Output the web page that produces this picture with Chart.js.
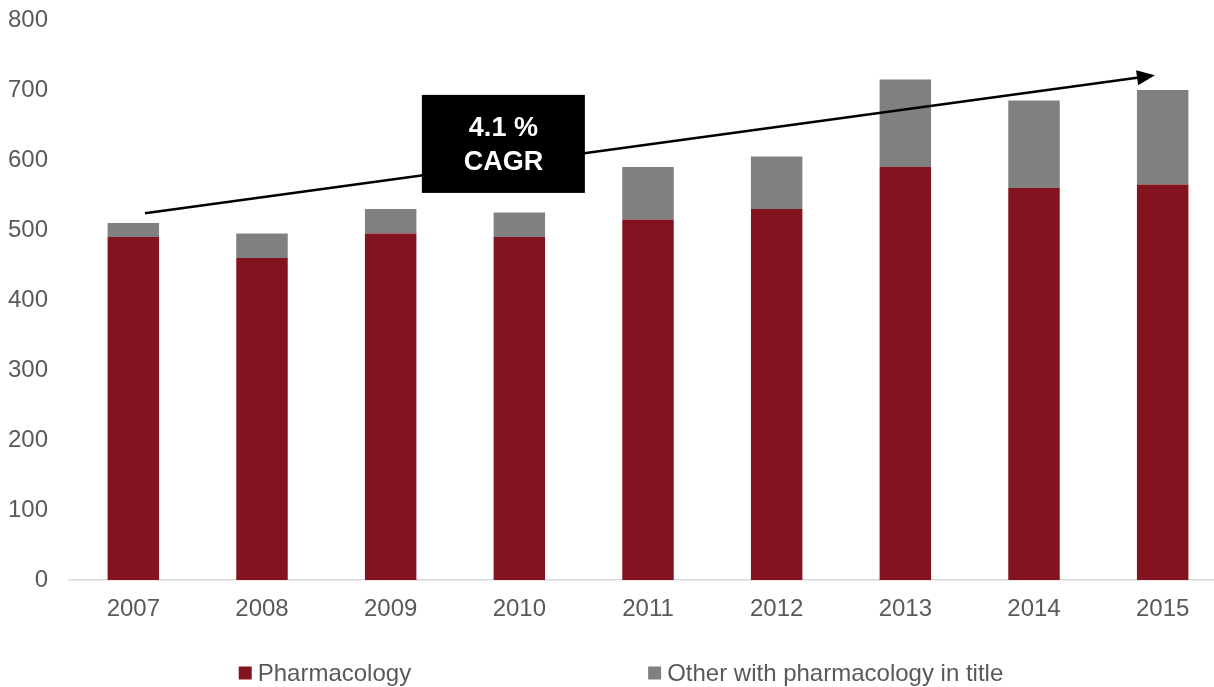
<!DOCTYPE html>
<html>
<head>
<meta charset="utf-8">
<script src="https://cdn.jsdelivr.net/npm/chart.js@4/dist/chart.umd.min.js"></script>
<style>
  html, body { margin: 0; padding: 0; background: #fff; overflow: hidden; }
  #wrap { position: relative; width: 1242px; height: 687px; }
</style>
</head>
<body>
<div id="wrap"><canvas id="c"></canvas></div>
<script>
// Publications per year, stacked by type
const years = ['2007', '2008', '2009', '2010', '2011', '2012', '2013', '2014', '2015'];
const pharmacology = [490, 460, 495, 490, 515, 530, 590, 560, 565];
const otherWithPharmacology = [20, 35, 35, 35, 75, 75, 125, 125, 135];
const seriesNames = ['Pharmacology', 'Other with pharmacology in title'];
const seriesColors = ['#83141f', '#808080'];
const yTicks = [0, 100, 200, 300, 400, 500, 600, 700, 800];

// Growth annotation
const cagrLines = ['4.1 %', 'CAGR'];
const arrowFrom = { x: 0.09, y: 524 };
const arrowTo = { x: 7.94, y: 721 };
const boxCenter = { x: 2.876, y: 623 };

const FONT = '"Liberation Sans", Arial, sans-serif';
const TEXT = '#595959';

const annotationPlugin = {
  id: 'cagrAnnotation',
  afterDatasetsDraw(chart) {
    const { ctx, scales: { x, y } } = chart;
    const x0 = x.getPixelForValue(arrowFrom.x), y0 = y.getPixelForValue(arrowFrom.y);
    const x1 = x.getPixelForValue(arrowTo.x), y1 = y.getPixelForValue(arrowTo.y);
    const ang = Math.atan2(y1 - y0, x1 - x0);
    const headLen = 18, headHalf = 7.5;
    ctx.save();
    ctx.strokeStyle = '#000';
    ctx.fillStyle = '#000';
    ctx.lineWidth = 2.5;
    ctx.beginPath();
    ctx.moveTo(x0, y0);
    ctx.lineTo(x1 - Math.cos(ang) * headLen * 0.8, y1 - Math.sin(ang) * headLen * 0.8);
    ctx.stroke();
    ctx.translate(x1, y1);
    ctx.rotate(ang);
    ctx.beginPath();
    ctx.moveTo(0, 0);
    ctx.lineTo(-headLen, -headHalf);
    ctx.lineTo(-headLen, headHalf);
    ctx.closePath();
    ctx.fill();
    ctx.restore();

    // label box
    const cx = x.getPixelForValue(boxCenter.x), cy = y.getPixelForValue(boxCenter.y);
    const bw = 163, bh = 98;
    ctx.save();
    ctx.fillStyle = '#000';
    ctx.fillRect(cx - bw / 2, cy - bh / 2, bw, bh);
    ctx.fillStyle = '#fff';
    ctx.font = 'bold 27px ' + FONT;
    ctx.textAlign = 'center';
    ctx.textBaseline = 'middle';
    ctx.fillText(cagrLines[0], cx, cy - 15);
    ctx.fillText(cagrLines[1], cx, cy + 19);
    ctx.restore();
  }
};

const legendPlugin = {
  id: 'bottomLegend',
  afterDraw(chart) {
    const { ctx } = chart;
    ctx.save();
    ctx.font = '24px ' + FONT;
    ctx.textBaseline = 'middle';
    const box = 13, gapText = 6, gapItems = 237, cy = 673;
    const widths = seriesNames.map(n => box + gapText + ctx.measureText(n).width);
    const total = widths.reduce((a, b) => a + b, 0) + gapItems * (widths.length - 1);
    let xPos = chart.width / 2 - total / 2;
    seriesNames.forEach((n, i) => {
      ctx.fillStyle = seriesColors[i];
      ctx.fillRect(xPos, cy - box / 2, box, box);
      ctx.fillStyle = TEXT;
      ctx.textAlign = 'left';
      ctx.fillText(n, xPos + box + gapText, cy + 1);
      xPos += widths[i] + gapItems;
    });
    ctx.restore();
  }
};

new Chart(document.getElementById('c'), {
  type: 'bar',
  data: {
    labels: years,
    datasets: [
      { label: seriesNames[0], data: pharmacology, backgroundColor: seriesColors[0],
        borderWidth: 0, categoryPercentage: 1, barPercentage: 0.4 },
      { label: seriesNames[1], data: otherWithPharmacology, backgroundColor: seriesColors[1],
        borderWidth: 0, categoryPercentage: 1, barPercentage: 0.4 }
    ]
  },
  options: {
    responsive: true,
    maintainAspectRatio: false,
    animation: false,
    layout: { padding: { top: 20, right: 15, bottom: 57, left: 0 } },
    plugins: { legend: { display: false }, tooltip: { enabled: false } },
    scales: {
      x: {
        stacked: true,
        grid: { display: false, drawTicks: false },
        border: { display: true, color: '#d9d9d9', width: 1.5 },
        ticks: { color: TEXT, font: { family: FONT, size: 24 }, padding: 15, maxRotation: 0 },
        afterFit(s) { s.height = 50; }
      },
      y: {
        stacked: true,
        min: 0, max: 800,
        grid: { display: false, drawTicks: false },
        border: { display: false },
        afterBuildTicks(s) { s.ticks = yTicks.map(v => ({ value: v })); },
        ticks: { color: TEXT, font: { family: FONT, size: 24 }, padding: 21 },
        afterFit(s) { s.width = 69; s.paddingTop = 0; s.paddingBottom = 0; }
      }
    }
  },
  plugins: [annotationPlugin, legendPlugin]
});
</script>
</body>
</html>
